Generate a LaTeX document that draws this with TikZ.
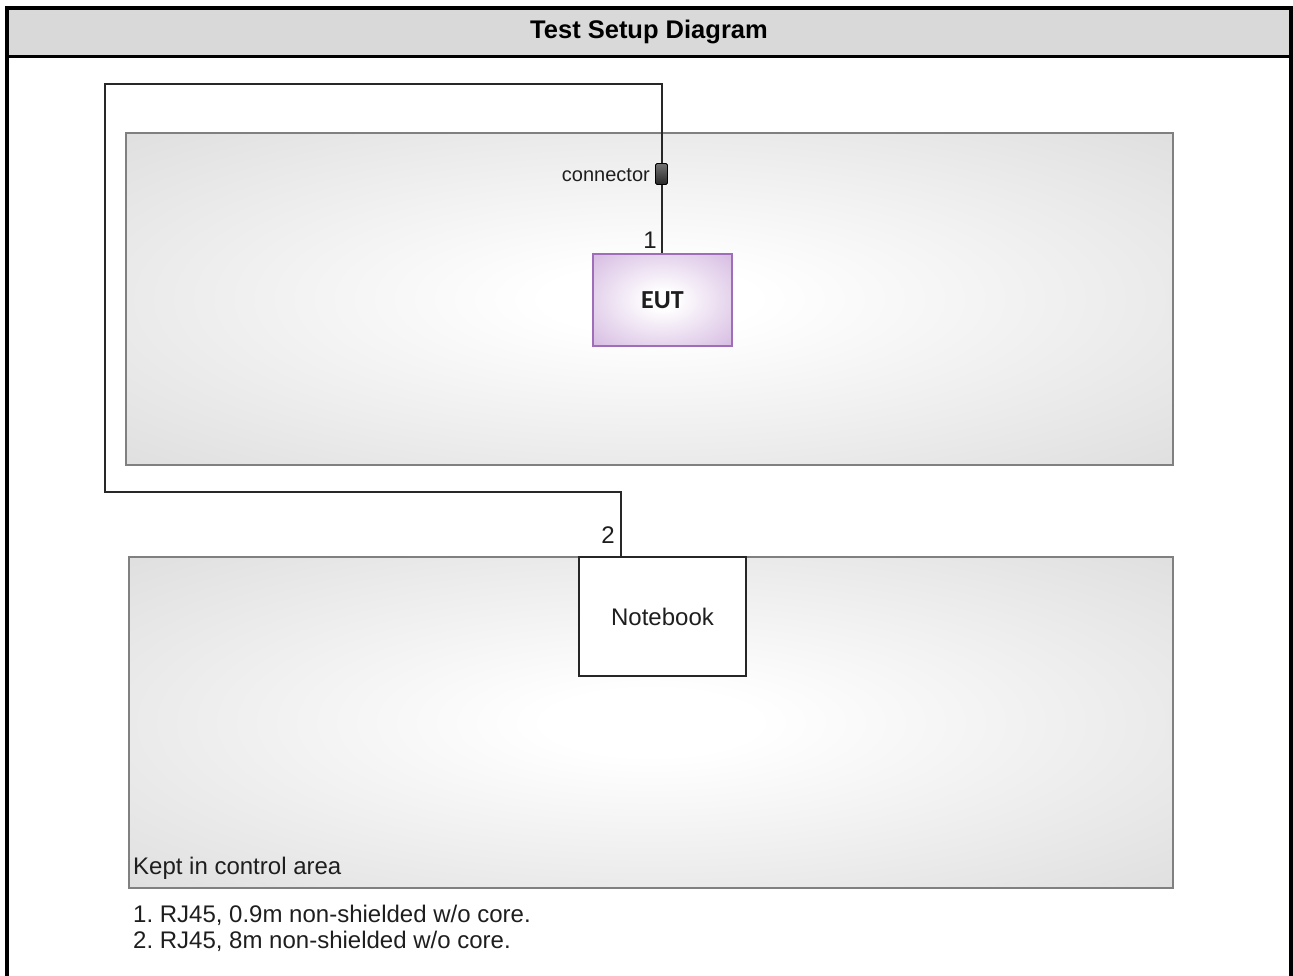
\documentclass[tikz,border=0pt]{standalone}
\usepackage{fontspec}
\setmainfont{Liberation Sans}
\newfontfamily\carl{Carlito}
\frenchspacing
\definecolor{hdrgray}{RGB}{217,217,217}
\definecolor{boxgray}{RGB}{208,208,208}
\definecolor{boxcorner}{RGB}{200,200,200}
\definecolor{boxedge}{RGB}{128,128,128}
\definecolor{eutedge}{RGB}{160,110,185}
\definecolor{eutfill}{RGB}{195,155,212}
\definecolor{eutcorner}{RGB}{185,140,205}
\definecolor{txt}{RGB}{30,30,30}
\definecolor{cablec}{RGB}{40,40,40}
\pgfdeclareradialshading{areashade}{\pgfpoint{0bp}{0bp}}{color(0bp)=(white); color(5bp)=(white); color(50bp)=(boxgray); color(72bp)=(boxcorner); color(100bp)=(boxcorner)}
\pgfdeclareradialshading{eutshade}{\pgfpoint{0bp}{0bp}}{color(0bp)=(white); color(5bp)=(white); color(50bp)=(eutfill); color(72bp)=(eutcorner); color(100bp)=(eutcorner)}
\tikzset{
  frameline/.style={line width=4pt, black},
  area/.style={draw=boxedge, line width=1.8pt, shading=areashade, inner sep=0pt},
  eutbox/.style={draw=eutedge, line width=1.8pt, shading=eutshade, inner sep=0pt, minimum width=139pt, minimum height=92pt, font=\carl\bfseries\fontsize{26}{30}\selectfont, text=txt},
  nbbox/.style={draw=black!85, line width=1.6pt, fill=white, inner sep=0pt, minimum width=167pt, minimum height=119pt, font=\fontsize{24}{28}\selectfont, text=txt},
  connbox/.style={draw=black, line width=0.8pt, top color=black!55, bottom color=black!85, rounded corners=1.5pt, inner sep=0pt, minimum width=12pt, minimum height=21pt},
  cable/.style={draw=cablec, line width=2pt},
  lbl/.style={font=\fontsize{24}{28}\selectfont, text=txt, inner sep=0pt},
  smalllbl/.style={font=\fontsize{20}{24}\selectfont, text=txt, inner sep=0pt},
}
\begin{document}
\begin{tikzpicture}[x=1pt,y=-1pt]
\useasboundingbox (0,0) rectangle (1293,976);
% header band
\fill[hdrgray] (7,8) rectangle (1291,56.5);
\draw[line width=3pt] (7,56.5) -- (1291,56.5);
\draw[frameline] (7,976) -- (7,8) -- (1291,8) -- (1291,976);
\node[font=\bfseries\fontsize{25.5}{30}\selectfont, text=black] (title) at (649,32) {Test Setup Diagram};
% areas
\node[area, minimum width=1047pt, minimum height=332pt] (top) at (649.5,299) {};
\node[area, minimum width=1044pt, minimum height=331pt] (bot) at (651,722.5) {};
\node[lbl, anchor=south west] (kept) at (133,880) {Kept in control area};
% devices
\node[eutbox] (eut) at (662.5,300) {EUT};
\node[nbbox] (nb) at (662.5,616.5) {Notebook};
\node[connbox] (conn) at (661.5,174) {};
\node[smalllbl, anchor=east] (connlbl) at (650,175) {connector};
% cables
\coordinate (k1) at (105,492);
\coordinate (k2) at (105,84);
\draw[cable] (conn.south) -- (conn.south |- eut.north);
\draw[cable] ([xshift=43pt]nb.north west) |- (k1) -- (k2) -| (conn.north);
\node[lbl, anchor=east] (l1) at (657,240) {1};
\node[lbl] (l2) at (608,535) {2};
% notes
\node[lbl, anchor=west] (n1) at (133,915) {1. RJ45, 0.9m non-shielded w/o core.};
\node[lbl, anchor=west] (n2) at (133,941) {2. RJ45, 8m non-shielded w/o core.};
\end{tikzpicture}
\end{document}
